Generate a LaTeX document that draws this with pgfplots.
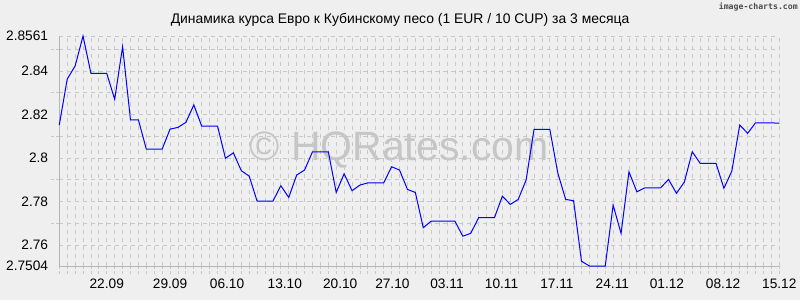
\documentclass[border=0pt]{standalone}
\usepackage{pgfplots}
\pgfplotsset{compat=1.18}
\usepackage{fontspec}
\setmainfont{Liberation Sans}
\newfontfamily\monofont{DejaVu Sans Mono}
\definecolor{bg}{HTML}{EFEFEF}
\definecolor{gridc}{HTML}{C8C8C8}
\definecolor{axc}{HTML}{B4B4B4}
\definecolor{wm}{HTML}{C6C6C6}
\begin{document}
\begin{tikzpicture}[x=1pt,y=1pt]
\fill[bg] (0,0) rectangle (800,300);
\node[anchor=base, inner sep=0pt, font=\fontsize{13.9}{16}\selectfont] at (400,276) {Динамика курса Евро к Кубинскому песо (1 EUR / 10 CUP) за 3 месяца};
\node[anchor=north east, inner sep=0pt, text=black!70, font=\monofont\bfseries\fontsize{8.2}{9}\selectfont] at (798,297) {image-charts.com};
\node[text=wm, font=\fontsize{41}{44}\selectfont, inner sep=0pt] at (399,150) {© HQRates.com};
\begin{axis}[
  at={(59.3pt,34pt)}, anchor=south west,
  scale only axis, width=720pt, height=230pt,
  xmin=0, xmax=91, ymin=2.7504, ymax=2.8561,
  clip=false,
  axis x line*=bottom, axis y line*=left,
  axis line style={axc, line width=1pt, -},
  xtick={6,14,21.2,28.5,35.5,42.1,49,55.9,62.9,69.9,76.8,83.9,91},
  xticklabels={22.09,29.09,06.10,13.10,20.10,27.10,03.11,10.11,17.11,24.11,01.12,08.12,15.12},
  minor xtick={0,1,...,91},
  ytick={2.7504,2.76,2.78,2.8,2.82,2.84,2.8561},
  yticklabels={2.7504,2.76,2.78,2.8,2.82,2.84,2.8561},
  minor ytick={2.77,2.79,2.81,2.83,2.85},
  xminorgrids=true, ymajorgrids=true, yminorgrids=true, xmajorgrids=false,
  grid style={gridc, dash pattern=on 4pt off 4pt, line width=0.8pt},
  major grid style={gridc, dash pattern=on 4pt off 4pt, line width=0.8pt},
  minor grid style={gridc, dash pattern=on 4pt off 4pt, line width=0.8pt},
  tick align=outside,
  major tick length=0pt, minor tick length=8pt,
  minor tick style={gridc, dash pattern=on 3pt off 2pt, line width=0.8pt},
  ticklabel style={font=\fontsize{13.7}{16}\selectfont},
  yticklabel style={anchor=east, inner sep=0pt, xshift=-11pt},
  xticklabel style={anchor=north, inner sep=0pt, yshift=-13pt},
  /pgf/number format/assume math mode=true,
]
\addplot[blue, line width=1pt, mark=none] coordinates {
(0,2.8152) (1,2.8363) (2,2.8423) (3,2.8561) (4,2.8389) (5,2.8389) (6,2.8389) (7,2.8270)
(8,2.8512) (9,2.8175) (10,2.8175) (11,2.8041) (12,2.8041) (13,2.8041) (14,2.8133) (15,2.8141)
(16,2.8164) (17,2.8244) (18,2.8147) (19,2.8147) (20,2.8147) (21,2.7999) (22,2.8024) (23,2.7942)
(24,2.7917) (25,2.7802) (26,2.7802) (27,2.7802) (28,2.7873) (29,2.7819) (30,2.7922) (31,2.7945)
(32,2.8029) (33,2.8029) (34,2.8029) (35,2.7842) (36,2.7928) (37,2.7850) (38,2.7876) (39,2.7886)
(40,2.7886) (41,2.7886) (42,2.7960) (43,2.7945) (44,2.7856) (45,2.7842) (46,2.7680) (47,2.7710)
(48,2.7710) (49,2.7710) (50,2.7710) (51,2.7641) (52,2.7654) (53,2.7726) (54,2.7726) (55,2.7726)
(56,2.7825) (57,2.7787) (58,2.7810) (59,2.7899) (60,2.8132) (61,2.8132) (62,2.8132) (63,2.7932)
(64,2.7810) (65,2.7804) (66,2.7526) (67,2.7504) (68,2.7504) (69,2.7504) (70,2.7784) (71,2.7654)
(72,2.7937) (73,2.7845) (74,2.7863) (75,2.7863) (76,2.7863) (77,2.7902) (78,2.7838) (79,2.7890)
(80,2.8029) (81,2.7976) (82,2.7976) (83,2.7976) (84,2.7861) (85,2.7940) (86,2.8152) (87,2.8114)
(88,2.8162) (89,2.8162) (90,2.8162) (91,2.8160)
};
\end{axis}
\end{tikzpicture}
\end{document}
